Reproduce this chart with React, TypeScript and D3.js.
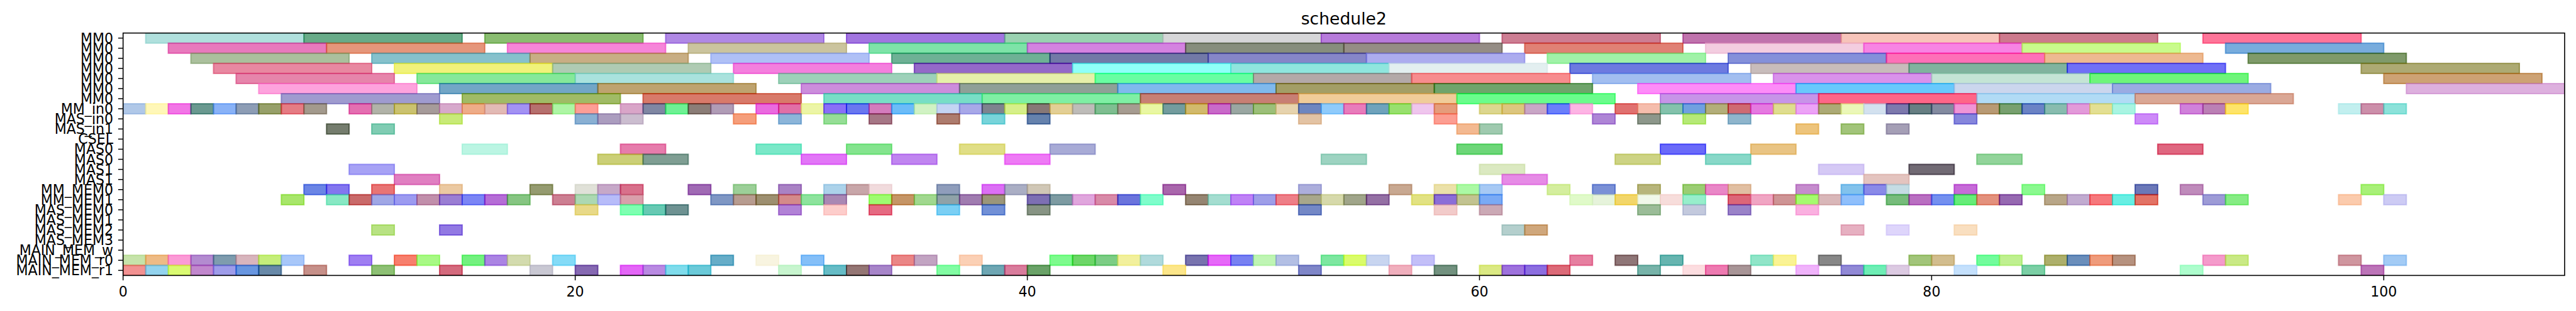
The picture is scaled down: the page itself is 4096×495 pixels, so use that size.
import React from "react";
import * as d3 from "d3";

const W = 4096;
const H = 495;
const PLOT = { left: 195.7, right: 4077.9, top: 52.6, bottom: 438.4 };

const title = "schedule2";
const rowLabels = [
  "MM0", "MM0", "MM0", "MM0", "MM0", "MM0", "MM0",
  "MM_in0", "MAS_in0", "MAS_in1", "CSEL",
  "MAS0", "MAS0", "MAS1", "MAS1",
  "MM_MEM0", "MM_MEM1",
  "MAS_MEM0", "MAS_MEM1", "MAS_MEM2", "MAS_MEM3",
  "MAIN_MEM_w", "MAIN_MEM_r0", "MAIN_MEM_r1",
];
const xDomain = [0, 108];
const xTicks = [0, 20, 40, 60, 80, 100];

type Task = [number, number, string];

const mm0_0: Task[] = [
  [1, 8, "#b0e0dd"], [8, 15, "#68ab88"], [16, 23, "#8abd71"], [24, 31, "#b088e5"],
  [32, 39, "#a275e0"], [39, 46, "#9ad2b1"], [46, 53, "#d6d6d8"], [53, 60, "#b77bdb"],
  [61, 68, "#cd7e93"], [69, 76, "#c073ad"], [76, 83, "#f7c4ba"], [83, 90, "#cd7a8d"],
  [92, 99, "#fe7599"],
];
const mm0_1: Task[] = [
  [2, 9, "#e87abd"], [9, 16, "#e5967b"], [17, 24, "#f685d9"], [25, 32, "#cbc49e"],
  [33, 40, "#7ee3a8"], [40, 47, "#d483e0"], [47, 54, "#878e7d"], [54, 61, "#958d85"],
  [62, 69, "#e08175"], [70, 77, "#f3cde0"], [77, 84, "#f784e3"], [84, 91, "#c9fb8c"],
  [93, 100, "#78acdd"],
];
const mm0_2: Task[] = [
  [3, 10, "#abc09d"], [11, 18, "#86c1cc"], [18, 25, "#c8ae84"], [26, 33, "#afc0f6"],
  [34, 41, "#6eb195"], [41, 48, "#7279a7"], [48, 55, "#8686c8"], [55, 62, "#acacef"],
  [63, 70, "#a0f2a8"], [71, 78, "#8490da"], [78, 85, "#fe70b8"], [85, 92, "#edb991"],
  [94, 101, "#7f9a6a"],
];
const mm0_3: Task[] = [
  [4, 11, "#e888a1"], [12, 19, "#f0f27a"], [19, 26, "#afcbb3"], [27, 34, "#f47fde"],
  [35, 42, "#9469c8"], [42, 49, "#8ffff8"], [49, 56, "#8fe6de"], [56, 63, "#e3eff0"],
  [64, 71, "#6d7ae0"], [72, 79, "#c8bcbb"], [79, 86, "#80b39e"], [86, 93, "#7070f6"],
  [99, 106, "#adaa73"],
];
const mm0_4: Task[] = [
  [5, 12, "#e685ab"], [13, 20, "#85e89a"], [20, 27, "#a9e2dd"], [29, 36, "#9dd1b9"],
  [36, 43, "#e6f0aa"], [43, 50, "#68fea2"], [50, 57, "#b3a9a8"], [57, 64, "#f78c8e"],
  [65, 72, "#a2bef0"], [73, 80, "#d992eb"], [80, 87, "#c4e4d5"], [87, 94, "#6ef57a"],
  [100, 107, "#cda274"],
];
const mm0_5: Task[] = [
  [6, 13, "#fda3dd"], [14, 21, "#72a6c6"], [21, 28, "#bea36f"], [30, 37, "#cc8ddc"],
  [37, 44, "#8fa097"], [44, 51, "#80b9ec"], [51, 58, "#a39e64"], [58, 65, "#6fa46b"],
  [67, 74, "#fd8cf8"], [74, 81, "#69c9fc"], [81, 88, "#cbd6ed"], [88, 95, "#9aabe2"],
  [101, 108, "#ddb0de"],
];
const mm0_6: Task[] = [
  [7, 14, "#9f9bcf"], [15, 22, "#a0bb63"], [23, 30, "#d87a6a"], [31, 38, "#78dec6"],
  [38, 45, "#7fefa4"], [45, 52, "#c87f74"], [52, 59, "#f0cc99"], [59, 66, "#6afc8c"],
  [68, 75, "#c794e8"], [75, 82, "#fe6688"], [82, 89, "#b1dbf5"], [89, 96, "#daa795"],
];

const mmIn0: Task[] = [
  [0, 1, "#b0c8e8"], [1, 2, "#fff7b8"], [2, 3, "#f276e6"], [3, 4, "#6a9990"], [4, 5, "#89b2f7"],
  [5, 6, "#8d9db5"], [6, 7, "#97a06a"], [7, 8, "#e57c84"], [8, 9, "#a39a8d"], [10, 11, "#e46fb1"],
  [11, 12, "#b1b3a8"], [12, 13, "#cbc26f"], [13, 14, "#a69b9a"], [14, 15, "#d7a9cc"], [15, 16, "#eeac88"],
  [16, 17, "#e2bab5"], [17, 18, "#a392f3"], [18, 19, "#b6706e"], [19, 20, "#aef5a5"], [20, 21, "#fd9e96"],
  [22, 23, "#d9a5c8"], [23, 24, "#8087a3"], [24, 25, "#6ef194"], [25, 26, "#8b7d77"], [26, 27, "#b09cb6"],
  [28, 29, "#ea6bdf"], [29, 30, "#e16fa6"], [30, 31, "#ecf5a6"], [31, 32, "#8a6ff7"], [32, 33, "#6a77f0"],
  [33, 34, "#d47cbd"], [34, 35, "#6cbcf8"], [35, 36, "#d1f2c4"], [36, 37, "#c4d4f3"], [37, 38, "#a8a8e8"],
  [38, 39, "#7e838e"], [39, 40, "#d6ef8a"], [40, 41, "#877877"], [41, 42, "#e3cf95"], [42, 43, "#bebcb9"],
  [43, 44, "#7fbe91"], [44, 45, "#a69c91"], [45, 46, "#e9f7a3"], [46, 47, "#739c9e"], [47, 48, "#d2ba6c"],
  [48, 49, "#c96ac9"], [49, 50, "#9aa7a2"], [50, 51, "#9cbf79"], [51, 52, "#e6d3ae"], [52, 53, "#6e86c0"],
  [53, 54, "#8fcbfb"], [54, 55, "#e87cbb"], [55, 56, "#6fa3bc"], [56, 57, "#98e06e"], [57, 58, "#efc6ed"],
  [58, 59, "#e59c7b"], [60, 61, "#dcd68f"], [61, 62, "#dcc67f"], [62, 63, "#c9a6c6"], [63, 64, "#6b7ffa"],
  [64, 65, "#fdb4e4"], [66, 67, "#e07170"], [67, 68, "#f5bdac"], [68, 69, "#84c2ac"], [69, 70, "#70a0e0"],
  [70, 71, "#b3ae7a"], [71, 72, "#cf6a72"], [72, 73, "#e57ae0"], [73, 74, "#dfdd8f"], [74, 75, "#eca3f6"],
  [75, 76, "#acaa76"], [76, 77, "#ebf7b8"], [77, 78, "#d3e1ef"], [78, 79, "#7d79ad"], [79, 80, "#677f83"],
  [80, 81, "#838ba0"], [81, 82, "#f095d6"], [82, 83, "#b89a74"], [83, 84, "#78a06f"], [84, 85, "#6b83c5"],
  [85, 86, "#88bcaf"], [86, 87, "#e29ad9"], [87, 88, "#e3df93"], [88, 89, "#a9f4e2"], [91, 92, "#d081da"],
  [92, 93, "#bb80b5"], [93, 94, "#fee46a"], [98, 99, "#c2efef"], [99, 100, "#cc8faa"], [100, 101, "#8ce2da"],
];
const masIn0: Task[] = [
  [14, 15, "#c8ea78"], [20, 21, "#8ab0d3"], [21, 22, "#ab9dbf"], [22, 23, "#cbbdcf"], [27, 28, "#f59e7b"],
  [29, 30, "#8cb5d9"], [31, 32, "#96de96"], [33, 34, "#a67786"], [36, 37, "#ad7c6e"], [38, 39, "#78d4da"],
  [40, 41, "#6682ad"], [52, 53, "#e3c3a4"], [58, 59, "#fc9e92"], [65, 66, "#ae85d6"], [67, 68, "#8d978b"],
  [69, 70, "#b6e977"], [71, 72, "#8fb5cc"], [81, 82, "#8686dc"], [89, 90, "#cd8af8"],
];
const masIn1: Task[] = [
  [9, 10, "#757d6e"], [11, 12, "#80ccb3"], [59, 60, "#f3b991"], [60, 61, "#9fcaaf"],
  [74, 75, "#edc47c"], [76, 77, "#a2c47a"], [78, 79, "#a59fb6"],
];
const csel: Task[] = [];
const mas0a: Task[] = [
  [15, 17, "#bbf5e3"], [22, 24, "#e67cac"], [28, 30, "#7ae8c8"], [32, 34, "#84e48e"], [37, 39, "#e0de86"],
  [41, 43, "#a8abd6"], [59, 61, "#6dd678"], [68, 70, "#6a6af9"], [72, 74, "#e9c484"], [90, 92, "#df6780"],
];
const mas0b: Task[] = [
  [21, 23, "#cbcf77"], [23, 25, "#7f9e93"], [30, 32, "#e276f7"], [34, 36, "#c085f0"], [39, 41, "#ee7af5"],
  [53, 55, "#9dd3c1"], [66, 68, "#cdd384"], [70, 72, "#88d8c8"], [82, 84, "#92d49a"],
];
const mas1a: Task[] = [
  [10, 12, "#a7a2f5"], [60, 62, "#dbe9c1"], [75, 77, "#d5c9f5"], [79, 81, "#716a74"],
];
const mas1b: Task[] = [
  [12, 14, "#e07fc1"], [61, 63, "#e68be6"], [77, 79, "#e4c4bf"],
];
const mmMem0: Task[] = [
  [8, 9, "#6b85e5"], [9, 10, "#8376ef"], [11, 12, "#e87474"], [14, 15, "#ebc9a2"], [18, 19, "#959b70"],
  [20, 21, "#e0e1d8"], [21, 22, "#c6a8c8"], [22, 23, "#d8708b"], [25, 26, "#a06ab4"], [27, 28, "#9ccf98"],
  [29, 30, "#a982c4"], [31, 32, "#acd2ea"], [32, 33, "#c8a6a9"], [33, 34, "#f1dbdd"], [36, 37, "#8f9dbb"],
  [38, 39, "#dc6ff5"], [39, 40, "#aaaec4"], [40, 41, "#d0c7b6"], [46, 47, "#a965ac"], [52, 53, "#acaedc"],
  [56, 57, "#c8a891"], [58, 59, "#ebe1a9"], [59, 60, "#abf9a4"], [60, 61, "#a7c9f4"], [63, 64, "#d4ee9e"],
  [65, 66, "#7a90d6"], [67, 68, "#b7b57b"], [69, 70, "#9bcd73"], [70, 71, "#e987c7"], [71, 72, "#e1bfa2"],
  [74, 75, "#c58ccd"], [76, 77, "#82c2ec"], [77, 78, "#8a8ae8"], [78, 79, "#c5dce4"], [81, 82, "#c66bd8"],
  [84, 85, "#8af98f"], [89, 90, "#6b78b8"], [91, 92, "#bf8bbb"], [99, 100, "#a8f078"],
];
const mmMem1: Task[] = [
  [7, 8, "#a8e66b"], [9, 10, "#88e8c4"], [10, 11, "#c96a6a"], [11, 12, "#a0a7e5"], [12, 13, "#9c9bf0"],
  [13, 14, "#c18fab"], [14, 15, "#9a7ed3"], [15, 16, "#7b85f5"], [16, 17, "#b56dd6"], [17, 18, "#86c582"],
  [19, 20, "#cc7f92"], [20, 21, "#acd8b2"], [21, 22, "#b7bcf9"], [22, 23, "#d99fab"], [26, 27, "#7f97c4"],
  [27, 28, "#b79c90"], [28, 29, "#9d8f70"], [29, 30, "#d48a8a"], [30, 31, "#8de39d"], [31, 32, "#a988b4"],
  [33, 34, "#9efb70"], [34, 35, "#c59565"], [35, 36, "#a1d88f"], [36, 37, "#8fa2a8"], [37, 38, "#a07cb0"],
  [38, 39, "#9b967a"], [40, 41, "#7d6fb3"], [41, 42, "#7d9ba2"], [42, 43, "#e0a6dd"], [43, 44, "#d88aa8"],
  [44, 45, "#6b74dc"], [45, 46, "#7ffdcb"], [47, 48, "#958572"], [48, 49, "#a4ddd0"], [49, 50, "#bf82f6"],
  [50, 51, "#9e9ee8"], [51, 52, "#ee7f88"], [52, 53, "#a8a78b"], [53, 54, "#d6d9ab"], [54, 55, "#a0a58a"],
  [55, 56, "#9470a4"], [57, 58, "#e2e283"], [58, 59, "#8b6ed8"], [59, 60, "#c2c391"], [60, 61, "#7aaaf5"],
  [64, 65, "#e0fac9"], [65, 66, "#e6f3db"], [66, 67, "#f2d66a"], [67, 68, "#f0f8ea"], [68, 69, "#f7dddb"],
  [69, 70, "#97eecb"], [71, 72, "#dc6678"], [72, 73, "#f0a5c3"], [73, 74, "#ce9495"], [74, 75, "#a5fb6e"],
  [75, 76, "#d9b7b9"], [76, 77, "#8fbffb"], [78, 79, "#76bc7b"], [79, 80, "#b96fc1"], [80, 81, "#7490ef"],
  [81, 82, "#63ec79"], [82, 83, "#e3917d"], [83, 84, "#9669b1"], [85, 86, "#b8a688"], [86, 87, "#c1abd0"],
  [87, 88, "#f6787c"], [88, 89, "#68eee3"], [89, 90, "#e27366"], [92, 93, "#9d9bd6"], [93, 94, "#86ec84"],
  [98, 99, "#fbcbad"], [100, 101, "#cdcbf4"],
];
const masMem0: Task[] = [
  [20, 21, "#e8d988"], [22, 23, "#7effb1"], [23, 24, "#67c9b3"], [24, 25, "#6e9292"], [29, 30, "#b182d6"],
  [31, 32, "#fdcdcb"], [33, 34, "#e56a82"], [36, 37, "#7bcff4"], [38, 39, "#7290d6"], [40, 41, "#879484"],
  [52, 53, "#7488c6"], [58, 59, "#f2cbca"], [60, 61, "#cba9b5"], [67, 68, "#9bbc98"], [69, 70, "#c3c9dd"],
  [71, 72, "#9a83c8"], [74, 75, "#fab0e0"],
];
const masMem1: Task[] = [];
const masMem2: Task[] = [
  [11, 12, "#b8e283"], [14, 15, "#9279e3"], [61, 62, "#b4cfcd"], [62, 63, "#cfa77c"],
  [76, 77, "#e6b0c1"], [78, 79, "#ded5fb"], [81, 82, "#f9dfc0"],
];
const masMem3: Task[] = [];
const mainMemW: Task[] = [];
const mainMemR0: Task[] = [
  [0, 1, "#c6e3aa"], [1, 2, "#eebb85"], [2, 3, "#fb9bd6"], [3, 4, "#b38bd0"], [4, 5, "#7e9cae"],
  [5, 6, "#d8b5bd"], [6, 7, "#c5ee7a"], [7, 8, "#a8c7f9"], [10, 11, "#9f7ef2"], [12, 13, "#f77f6d"],
  [13, 14, "#a8f985"], [15, 16, "#73f17f"], [16, 17, "#ab84e3"], [17, 18, "#d3dbae"], [19, 20, "#84dbf7"],
  [26, 27, "#62adc8"], [28, 29, "#f8f4e0"], [30, 31, "#84bff8"], [34, 35, "#ea8686"], [35, 36, "#c2a4c2"],
  [37, 38, "#fbd0b5"], [41, 42, "#7dfb8d"], [42, 43, "#6dd668"], [43, 44, "#7ccd85"], [44, 45, "#f2f09d"],
  [45, 46, "#b0dadc"], [47, 48, "#7873ae"], [48, 49, "#e668f8"], [49, 50, "#7881f2"], [50, 51, "#bff5b4"],
  [51, 52, "#b3bfe4"], [53, 54, "#7de7a0"], [54, 55, "#dafc6a"], [55, 56, "#c8d5f0"], [57, 58, "#c3bff8"],
  [64, 65, "#e67fa0"], [66, 67, "#8f7677"], [68, 69, "#63b5b0"], [72, 73, "#90e5c8"], [73, 74, "#faf394"],
  [75, 76, "#878787"], [79, 80, "#a2c57a"], [80, 81, "#d2bd8e"], [82, 83, "#72fc9c"], [83, 84, "#bff090"],
  [85, 86, "#adaf6b"], [86, 87, "#6a8ebb"], [87, 88, "#ef9b7b"], [88, 89, "#b6927f"], [92, 93, "#f49acb"],
  [93, 94, "#c9e985"], [98, 99, "#cf969f"], [100, 101, "#a3cbf5"],
];
const mainMemR1: Task[] = [
  [0, 1, "#f29191"], [1, 2, "#93d3ee"], [2, 3, "#dafa72"], [3, 4, "#c187cd"], [4, 5, "#9e9ce9"],
  [5, 6, "#6896e0"], [6, 7, "#6889a8"], [8, 9, "#c69089"], [11, 12, "#8dc074"], [14, 15, "#d46a7d"],
  [18, 19, "#c9c8d3"], [20, 21, "#8669b2"], [22, 23, "#e466f7"], [23, 24, "#b98ae2"], [24, 25, "#7fdcec"],
  [25, 26, "#6bcad9"], [29, 30, "#c8f5cf"], [31, 32, "#66bcc6"], [32, 33, "#947674"], [33, 34, "#a785c9"],
  [36, 37, "#82fca3"], [38, 39, "#6ea6b3"], [39, 40, "#d97c9c"], [40, 41, "#6aa268"], [46, 47, "#fce68a"],
  [52, 53, "#7f86c8"], [56, 57, "#f0afbd"], [58, 59, "#72917f"], [60, 61, "#dbe983"], [61, 62, "#9e72dd"],
  [62, 63, "#8c6ee0"], [63, 64, "#dc6a78"], [67, 68, "#77b3a9"], [69, 70, "#fcdde0"], [70, 71, "#ee7ab1"],
  [71, 72, "#a89597"], [74, 75, "#f0b3fb"], [76, 77, "#9189d6"], [77, 78, "#6eeeb5"], [78, 79, "#dccae2"],
  [81, 82, "#c4e0fc"], [84, 85, "#7bcfa5"], [91, 92, "#adfdcd"], [99, 100, "#bc74b8"],
];

const rowTasks: Task[][] = [
  mm0_0, mm0_1, mm0_2, mm0_3, mm0_4, mm0_5, mm0_6,
  mmIn0, masIn0, masIn1, csel,
  mas0a, mas0b, mas1a, mas1b,
  mmMem0, mmMem1,
  masMem0, masMem1, masMem2, masMem3,
  mainMemW, mainMemR0, mainMemR1,
];

const ALPHA = 0.6;
function baseColor(observed: string): string {
  const c = d3.rgb(observed);
  const f = (v: number) => Math.max(0, Math.min(255, (v - 255 * (1 - ALPHA)) / ALPHA));
  return d3.rgb(f(c.r), f(c.g), f(c.b)).formatHex();
}

const FONT = "'DejaVu Sans', sans-serif";

export default function App() {
  const x = d3.scaleLinear().domain(xDomain).range([PLOT.left, PLOT.right]);
  const y = d3
    .scaleBand<number>()
    .domain(d3.range(rowLabels.length))
    .range([PLOT.top, PLOT.bottom])
    .padding(0);
  const bw = y.bandwidth();
  const tickLen = 7.8;
  const tickPad = 7.8;

  return (
    <svg
      width={W}
      height={H}
      viewBox={`0 0 ${W} ${H}`}
      style={{ position: "fixed", left: 0, top: 0, display: "block", background: "#fff" }}
    >
      <defs>
        <clipPath id="plotclip">
          <rect x={PLOT.left} y={PLOT.top} width={PLOT.right - PLOT.left} height={PLOT.bottom - PLOT.top} />
        </clipPath>
      </defs>
      <rect x={0} y={0} width={W} height={H} fill="#fff" />
      <g clipPath="url(#plotclip)">
        {rowTasks.map((tasks, r) =>
          tasks.map(([s, e, col], i) => {
            const base = baseColor(col);
            return (
              <rect
                key={`${r}-${i}`}
                x={x(s)}
                y={y(r)!}
                width={x(e) - x(s)}
                height={bw}
                fill={base}
                fillOpacity={ALPHA}
                stroke={base}
                strokeOpacity={ALPHA}
                strokeWidth={2}
              />
            );
          })
        )}
      </g>
      {/* spines */}
      <rect
        x={PLOT.left}
        y={PLOT.top}
        width={PLOT.right - PLOT.left}
        height={PLOT.bottom - PLOT.top}
        fill="none"
        stroke="#000"
        strokeWidth={1.6}
      />
      {/* y ticks */}
      {rowLabels.map((lab, r) => {
        const cy = y(r)! + bw / 2;
        return (
          <g key={`yt-${r}`}>
            <line x1={PLOT.left - tickLen} x2={PLOT.left} y1={cy} y2={cy} stroke="#000" strokeWidth={1.5} />
            <text
              x={PLOT.left - tickLen - tickPad}
              y={cy}
              textAnchor="end"
              dominantBaseline="central"
              fontFamily={FONT}
              fontSize={22.1}
              fill="#000"
            >
              {lab}
            </text>
          </g>
        );
      })}
      {/* x ticks */}
      {xTicks.map((t) => (
        <g key={`xt-${t}`}>
          <line x1={x(t)} x2={x(t)} y1={PLOT.bottom} y2={PLOT.bottom + tickLen} stroke="#000" strokeWidth={1.5} />
          <text
            x={x(t)}
            y={472}
            textAnchor="middle"
            fontFamily={FONT}
            fontSize={22.1}
            fill="#000"
          >
            {t}
          </text>
        </g>
      ))}
      <text
        x={(PLOT.left + PLOT.right) / 2}
        y={39.2}
        textAnchor="middle"
        fontFamily={FONT}
        fontSize={26.6}
        fill="#000"
      >
        {title}
      </text>
    </svg>
  );
}
